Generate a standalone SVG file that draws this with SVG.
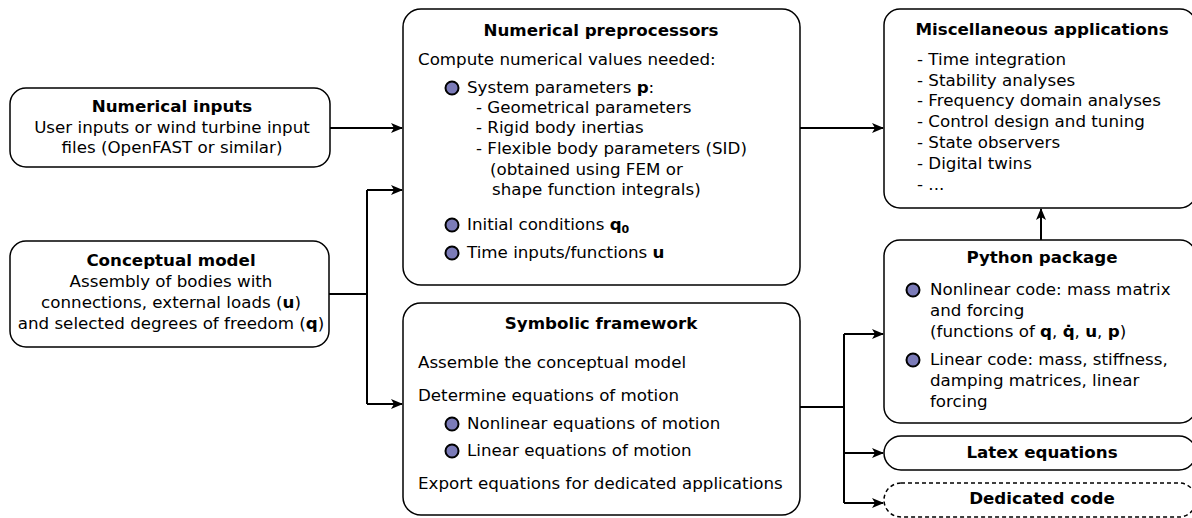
<svg xmlns="http://www.w3.org/2000/svg" width="1192" height="518" viewBox="0 0 1192 518">
  <style>
    text { font-family: "DejaVu Sans", Verdana, sans-serif; font-size: 16.7px; fill: #000; }
    .t { font-weight: bold; text-anchor: middle; }
    .c { text-anchor: middle; }
    .b { font-weight: bold; }
    .box { fill: #fff; stroke: #000; stroke-width: 1.5; }
    .dash { stroke-dasharray: 4 3; }
    .dot { fill: #7b7bb8; stroke: #000; stroke-width: 2; }
    .wire { fill: none; stroke: #000; stroke-width: 2; }
  </style>
  <defs>
    <marker id="arr" viewBox="0 0 12 10" refX="11" refY="5" markerWidth="12" markerHeight="10" markerUnits="userSpaceOnUse" orient="auto">
      <path d="M0,0 L12,5 L0,10 L3,5 Z" fill="#000"/>
    </marker>
  </defs>
  <rect width="1192" height="518" fill="#fff"/>

  <!-- connectors -->
  <g id="connectors">
    <path class="wire" d="M330,128 H402" marker-end="url(#arr)"/>
    <path class="wire" d="M329,294 H367"/>
    <path class="wire" d="M367,190 V404"/>
    <path class="wire" d="M367,190 H402" marker-end="url(#arr)"/>
    <path class="wire" d="M367,404 H402" marker-end="url(#arr)"/>
    <path class="wire" d="M800,128 H883" marker-end="url(#arr)"/>
    <path class="wire" d="M800,407 H844"/>
    <path class="wire" d="M844,334 V503"/>
    <path class="wire" d="M844,334 H883" marker-end="url(#arr)"/>
    <path class="wire" d="M844,453 H883" marker-end="url(#arr)"/>
    <path class="wire" d="M844,503 H883" marker-end="url(#arr)"/>
    <path class="wire" d="M1041,240 V209" marker-end="url(#arr)"/>
  </g>

  <!-- Numerical inputs -->
  <g id="numerical-inputs">
    <rect class="box" x="10" y="88" width="320" height="79" rx="16"/>
    <text class="t" x="172" y="112">Numerical inputs</text>
    <text class="c" x="172" y="133">User inputs or wind turbine input</text>
    <text class="c" x="172" y="153">files (OpenFAST or similar)</text>
  </g>

  <!-- Conceptual model -->
  <g id="conceptual-model">
    <rect class="box" x="10" y="241" width="319" height="106" rx="16"/>
    <text class="t" x="171" y="266">Conceptual model</text>
    <text class="c" x="171" y="287">Assembly of bodies with</text>
    <text class="c" x="171" y="308">connections, external loads (<tspan class="b">u</tspan>)</text>
    <text class="c" x="171" y="329">and selected degrees of freedom (<tspan class="b">q</tspan>)</text>
  </g>

  <!-- Numerical preprocessors -->
  <g id="numerical-preprocessors">
    <rect class="box" x="403" y="9" width="397" height="276" rx="18"/>
    <text class="t" x="601" y="36">Numerical preprocessors</text>
    <text x="418" y="65">Compute numerical values needed:</text>
    <circle class="dot" cx="452" cy="88" r="6.5"/>
    <text x="467" y="93">System parameters <tspan class="b">p</tspan>:</text>
    <text x="476" y="113">- Geometrical parameters</text>
    <text x="476" y="133">- Rigid body inertias</text>
    <text x="476" y="154">- Flexible body parameters (SID)</text>
    <text x="490" y="175">(obtained using FEM or</text>
    <text x="492" y="195">shape function integrals)</text>
    <circle class="dot" cx="452" cy="225" r="6.5"/>
    <text x="467" y="230">Initial conditions <tspan class="b">q</tspan><tspan class="b" font-size="11" dy="3">0</tspan></text>
    <circle class="dot" cx="452" cy="253" r="6.5"/>
    <text x="467" y="258">Time inputs/functions <tspan class="b">u</tspan></text>
  </g>

  <!-- Symbolic framework -->
  <g id="symbolic-framework">
    <rect class="box" x="403" y="303" width="397" height="212" rx="18"/>
    <text class="t" x="601" y="329">Symbolic framework</text>
    <text x="418" y="368">Assemble the conceptual model</text>
    <text x="418" y="401">Determine equations of motion</text>
    <circle class="dot" cx="452" cy="424" r="6.5"/>
    <text x="467" y="429">Nonlinear equations of motion</text>
    <circle class="dot" cx="452" cy="451" r="6.5"/>
    <text x="467" y="456">Linear equations of motion</text>
    <text x="418" y="489">Export equations for dedicated applications</text>
  </g>

  <!-- Miscellaneous applications -->
  <g id="misc-applications">
    <rect class="box" x="884" y="9" width="312" height="199" rx="16"/>
    <text class="t" x="1042" y="35">Miscellaneous applications</text>
    <text x="917" y="65">- Time integration</text>
    <text x="917" y="86">- Stability analyses</text>
    <text x="917" y="106">- Frequency domain analyses</text>
    <text x="917" y="127">- Control design and tuning</text>
    <text x="917" y="148">- State observers</text>
    <text x="917" y="169">- Digital twins</text>
    <text x="917" y="190">- ...</text>
  </g>

  <!-- Python package -->
  <g id="python-package">
    <rect class="box" x="884" y="240" width="312" height="183" rx="16"/>
    <text class="t" x="1042" y="263">Python package</text>
    <circle class="dot" cx="913" cy="290" r="6.5"/>
    <text x="930" y="295">Nonlinear code: mass matrix</text>
    <text x="930" y="316">and forcing</text>
    <text x="930" y="337">(functions of <tspan class="b">q</tspan>, <tspan class="b">q&#x307;</tspan>, <tspan class="b">u</tspan>, <tspan class="b">p</tspan>)</text>
    <circle class="dot" cx="913" cy="360" r="6.5"/>
    <text x="930" y="365">Linear code: mass, stiffness,</text>
    <text x="930" y="386">damping matrices, linear</text>
    <text x="930" y="407">forcing</text>
  </g>

  <!-- Latex equations -->
  <g id="latex-equations">
    <rect class="box" x="884" y="436" width="312" height="34" rx="17"/>
    <text class="t" x="1042" y="458">Latex equations</text>
  </g>

  <!-- Dedicated code -->
  <g id="dedicated-code">
    <rect class="box dash" x="884" y="483" width="312" height="34" rx="17"/>
    <text class="t" x="1042" y="504">Dedicated code</text>
  </g>
</svg>
